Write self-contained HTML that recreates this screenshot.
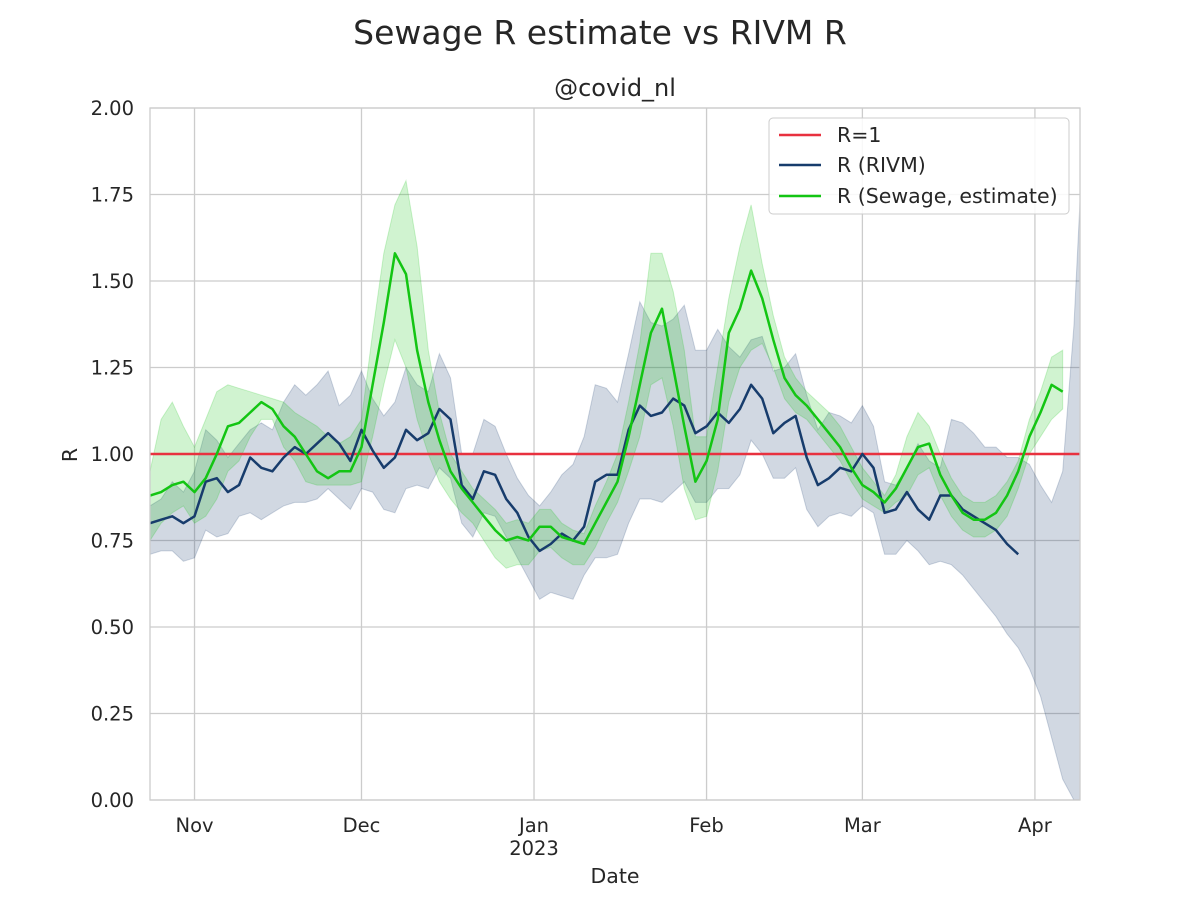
<!DOCTYPE html>
<html><head><meta charset="utf-8"><style>
body{margin:0;background:#fff;}
svg{display:block;font-family:"DejaVu Sans","Liberation Sans",sans-serif;}
</style></head><body>
<svg id="chart" width="1200" height="900" viewBox="0 0 1200 900" xmlns="http://www.w3.org/2000/svg">
<text x="600" y="44" text-anchor="middle" font-size="33" fill="#262626">Sewage R estimate vs RIVM R</text>
<text x="615" y="96" text-anchor="middle" font-size="24" fill="#262626">@covid_nl</text>
<g id="grid"></g>
<g id="marks"></g>
<g id="axes"></g>
<text x="615" y="883" text-anchor="middle" font-size="20.5" fill="#262626">Date</text>
<text transform="translate(77,455) rotate(-90)" text-anchor="middle" font-size="20.5" fill="#262626">R</text>
<g>
<rect x="769" y="118" width="300" height="96" rx="4" fill="#fff" fill-opacity="0.85" stroke="#ccc"/>
<line x1="779" y1="135" x2="821" y2="135" stroke="#e8313f" stroke-width="2.5"/>
<text x="837" y="142" font-size="20.5" fill="#262626">R=1</text>
<line x1="779" y1="165" x2="821" y2="165" stroke="#173c6c" stroke-width="2.5"/>
<text x="837" y="172" font-size="20.5" fill="#262626">R (RIVM)</text>
<line x1="779" y1="196" x2="821" y2="196" stroke="#13c513" stroke-width="2.5"/>
<text x="837" y="203" font-size="20.5" fill="#262626">R (Sewage, estimate)</text>
</g>
</svg>
<script>
// days since 2022-10-24, sampled every 2 days
const rivmR=[0.80,0.81,0.82,0.80,0.82,0.92,0.93,0.89,0.91,0.99,0.96,0.95,0.99,1.02,1.00,1.03,1.06,1.03,0.98,1.07,1.01,0.96,0.99,1.07,1.04,1.06,1.13,1.10,0.91,0.87,0.95,0.94,0.87,0.83,0.76,0.72,0.74,0.77,0.75,0.79,0.92,0.94,0.94,1.07,1.14,1.11,1.12,1.16,1.14,1.06,1.08,1.12,1.09,1.13,1.20,1.16,1.06,1.09,1.11,0.99,0.91,0.93,0.96,0.95,1.00,0.96,0.83,0.84,0.89,0.84,0.81,0.88,0.88,0.84,0.82,0.80,0.78,0.74,0.71];
const rivmUpper=[0.85,0.87,0.92,0.89,0.95,1.07,1.04,0.99,1.03,1.07,1.09,1.07,1.15,1.20,1.17,1.20,1.24,1.14,1.17,1.24,1.16,1.11,1.15,1.25,1.20,1.18,1.29,1.22,1.00,1.00,1.10,1.08,1.00,0.93,0.88,0.85,0.89,0.94,0.97,1.05,1.20,1.19,1.15,1.29,1.44,1.38,1.37,1.39,1.43,1.30,1.30,1.36,1.31,1.28,1.33,1.34,1.24,1.25,1.29,1.17,1.07,1.12,1.11,1.09,1.14,1.08,0.92,0.91,0.96,1.03,0.98,0.96,1.10,1.09,1.06,1.02,1.02,0.99,0.99,0.97,0.91,0.86,0.95,1.37,1.73];
const rivmLower=[0.71,0.72,0.72,0.69,0.70,0.78,0.76,0.77,0.82,0.83,0.81,0.83,0.85,0.86,0.86,0.87,0.90,0.87,0.84,0.90,0.89,0.84,0.83,0.90,0.91,0.90,0.96,0.93,0.80,0.76,0.83,0.82,0.76,0.70,0.64,0.58,0.60,0.59,0.58,0.65,0.70,0.70,0.71,0.80,0.87,0.87,0.86,0.89,0.92,0.86,0.86,0.90,0.90,0.94,1.04,1.00,0.93,0.93,0.96,0.84,0.79,0.82,0.83,0.82,0.85,0.83,0.71,0.71,0.75,0.72,0.68,0.69,0.68,0.65,0.61,0.57,0.53,0.48,0.44,0.38,0.30,0.18,0.06,0.0,0.0];
const sewR=[0.88,0.89,0.91,0.92,0.89,0.93,1.00,1.08,1.09,1.12,1.15,1.13,1.08,1.05,1.00,0.95,0.93,0.95,0.95,1.02,1.20,1.38,1.58,1.52,1.30,1.15,1.04,0.95,0.90,0.86,0.82,0.78,0.75,0.76,0.75,0.79,0.79,0.76,0.75,0.74,0.80,0.86,0.92,1.05,1.20,1.35,1.42,1.25,1.08,0.92,0.98,1.10,1.35,1.42,1.53,1.45,1.33,1.22,1.17,1.14,1.10,1.06,1.02,0.96,0.91,0.89,0.86,0.90,0.96,1.02,1.03,0.94,0.88,0.83,0.81,0.81,0.83,0.88,0.95,1.05,1.12,1.20,1.18];
const sewUpper=[0.95,1.10,1.15,1.08,1.02,1.10,1.18,1.20,1.19,1.18,1.17,1.16,1.15,1.12,1.10,1.08,1.05,1.03,1.05,1.10,1.35,1.58,1.72,1.79,1.60,1.30,1.12,1.00,0.95,0.90,0.87,0.84,0.80,0.81,0.80,0.84,0.84,0.80,0.78,0.77,0.85,0.92,1.00,1.15,1.32,1.58,1.58,1.47,1.30,1.05,1.05,1.25,1.45,1.60,1.72,1.55,1.40,1.28,1.22,1.18,1.15,1.12,1.08,1.02,0.96,0.92,0.88,0.94,1.05,1.12,1.08,1.00,0.93,0.88,0.86,0.86,0.88,0.92,0.98,1.10,1.18,1.28,1.30];
const sewLower=[0.75,0.80,0.83,0.85,0.80,0.82,0.87,0.95,0.98,1.05,1.10,1.10,1.02,0.98,0.92,0.91,0.91,0.91,0.91,0.92,1.05,1.20,1.33,1.25,1.10,1.00,0.92,0.87,0.83,0.80,0.75,0.70,0.67,0.68,0.68,0.72,0.73,0.70,0.68,0.68,0.73,0.80,0.86,0.95,1.05,1.20,1.22,1.08,0.90,0.81,0.82,0.95,1.15,1.25,1.30,1.32,1.25,1.16,1.12,1.10,1.06,1.02,0.98,0.92,0.87,0.85,0.83,0.86,0.88,0.94,0.96,0.88,0.82,0.78,0.76,0.76,0.78,0.82,0.90,1.00,1.05,1.10,1.13];
const yTicks=[0,0.25,0.5,0.75,1,1.25,1.5,1.75,2];
const xTickDays=[8,38,69,100,128,159];
const xTickLabels=["Nov","Dec","Jan","Feb","Mar","Apr"];

const X0=150,X1=1080,Y0=800,Y1=108,DMAX=167.1;
const xs=d=>X0+d*(X1-X0)/DMAX;
const ys=v=>Y0-v*(Y0-Y1)/2;
const NS="http://www.w3.org/2000/svg";
function mk(tag,attrs,parent){const e=document.createElementNS(NS,tag);for(const k in attrs)e.setAttribute(k,attrs[k]);parent.appendChild(e);return e;}
const dayOf=i=>Math.min(2*i,DMAX);
const grid=document.getElementById('grid'),marks=document.getElementById('marks'),axes=document.getElementById('axes');
yTicks.forEach(t=>{
  const l=mk('line',{x1:X0,x2:X1,y1:ys(t),y2:ys(t),stroke:'#cccccc','stroke-width':1.3},grid);
  
  
  const tx=mk('text',{x:X0-16,y:ys(t)+7,'text-anchor':'end','font-size':19.5,fill:'#262626'},axes);
  tx.textContent=t.toFixed(2);
  
  
});
xTickDays.forEach((d,i)=>{
  const l=mk('line',{x1:xs(d),x2:xs(d),y1:Y1,y2:Y0,stroke:'#cccccc','stroke-width':1.3},grid);
  
  
  const tx=mk('text',{x:xs(d),y:832,'text-anchor':'middle','font-size':19.5,fill:'#262626'},axes);
  tx.textContent=xTickLabels[i];
  
  
});
const yr=mk('text',{x:xs(69),y:855,'text-anchor':'middle','font-size':19.5,fill:'#262626'},axes);
yr.textContent='2023';


const fr=mk('rect',{x:X0,y:Y1,width:X1-X0,height:Y0-Y1,fill:'none',stroke:'#cccccc','stroke-width':1.3},axes);


const cp=mk('clipPath',{id:'clip'},marks);mk('rect',{x:X0,y:Y1,width:X1-X0,height:Y0-Y1},cp);
function band(up,lo,fill,op,name){
  let p='';up.forEach((v,i)=>p+=(i?'L':'M')+xs(dayOf(i)).toFixed(1)+','+ys(v).toFixed(1));
  for(let i=lo.length-1;i>=0;i--)p+='L'+xs(dayOf(i)).toFixed(1)+','+ys(lo[i]).toFixed(1);
  const e=mk('path',{d:p+'Z',fill:fill,'fill-opacity':op,stroke:fill,'stroke-opacity':op,'clip-path':'url(#clip)'},marks);
  
  
}
function line(vals,col,name){
  let p='';vals.forEach((v,i)=>p+=(i?'L':'M')+xs(dayOf(i)).toFixed(1)+','+ys(v).toFixed(1));
  const e=mk('path',{d:p,fill:'none',stroke:col,'stroke-width':2.5,'stroke-linejoin':'round','clip-path':'url(#clip)'},marks);
  
  
}
band(rivmUpper,rivmLower,'#173c6c',0.2,'rivm-band');
band(sewUpper,sewLower,'#13c513',0.2,'sewage-band');
const r1=mk('line',{x1:X0,x2:X1,y1:ys(1),y2:ys(1),stroke:'#e8313f','stroke-width':2.5},marks);


line(rivmR,'#173c6c','rivm-line');
line(sewR,'#13c513','sewage-line');
</script>
</body></html>
